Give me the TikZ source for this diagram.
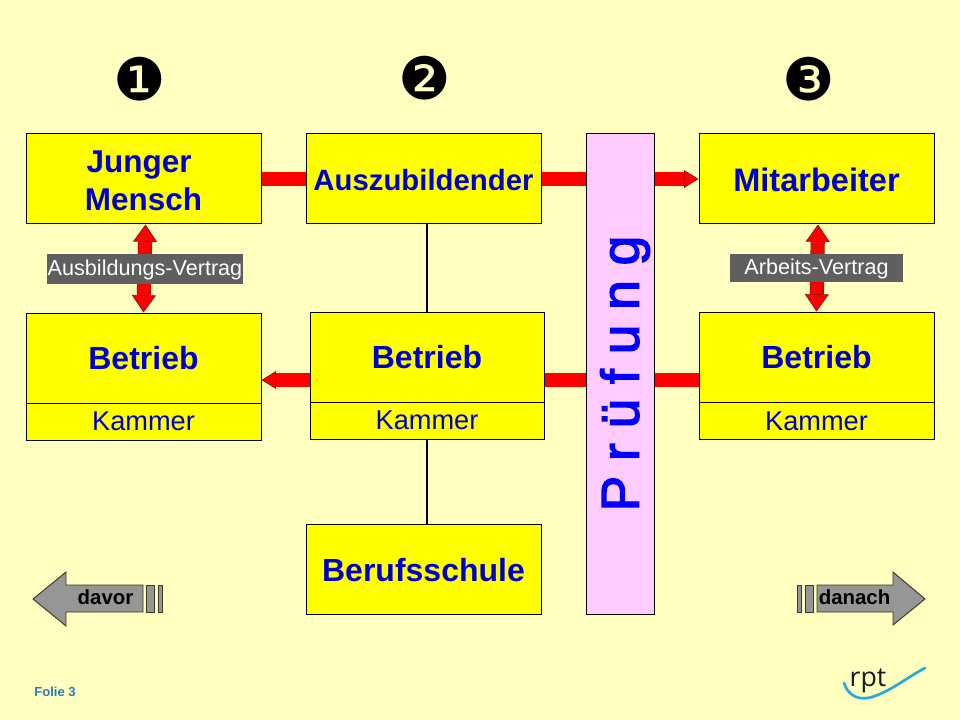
\documentclass[tikz,border=0pt]{standalone}
\usepackage{fontspec}
\setmainfont{Liberation Sans}
\newfontfamily\dingfont{DejaVu Sans}
\newfontfamily\logofont{Open Sans}
\newfontfamily\pruefont[FakeBold=2.5]{Liberation Sans}
\usetikzlibrary{arrows.meta,calc}
\definecolor{bgc}{HTML}{FFFFC0}
\definecolor{boxy}{HTML}{FFFF00}
\definecolor{boxblue}{HTML}{0000CC}
\definecolor{pinkc}{HTML}{FFCCFF}
\definecolor{barred}{HTML}{FF0000}
\definecolor{bardark}{HTML}{8A1010}
\definecolor{tagc}{HTML}{5F5F5F}
\definecolor{navc}{HTML}{969696}
\definecolor{navline}{HTML}{3A3A20}
\definecolor{foliec}{HTML}{2A7AB8}
\definecolor{logoc}{HTML}{29A9D9}
\newcommand\lowertxt[2]{\raisebox{-#1}[\height][\depth]{#2}}
\tikzset{
  x=0.75pt,y=-0.75pt,
  mainbox/.style={draw=black,line width=0.75pt,fill=boxy,minimum width=176.25pt,minimum height=67.5pt,inner sep=0pt,text=boxblue,font=\bfseries\fontsize{24}{28.5}\selectfont,align=center},
  subbox/.style={draw=black,line width=0.75pt,fill=boxy,minimum width=176.25pt,minimum height=27.75pt,inner sep=0pt,text=boxblue,font=\fontsize{20.4}{24}\selectfont},
  tagbox/.style={fill=tagc,text=white,inner sep=0pt,font=\fontsize{16.2}{19}\selectfont},
  redbar/.style={draw=bardark,double=barred,line width=0.4pt,double distance=9.8pt},
  redhead/.style={-{Triangle[length=11pt,width=13.5pt,fill=barred,color=bardark,line width=0.5pt]}},
  redtwo/.style={{Triangle[length=13pt,width=18pt,fill=barred,color=bardark,line width=0.5pt]}-{Triangle[length=13pt,width=18pt,fill=barred,color=bardark,line width=0.5pt]}},
  navshape/.style={draw=navline,line width=0.7pt,fill=navc},
  navtext/.style={font=\bfseries\fontsize{15.3}{18}\selectfont,text=black,inner sep=0pt},
  ding/.style={font=\dingfont\fontsize{44}{50}\selectfont,text=black,inner sep=0pt},
  link/.style={draw=black,line width=1.2pt},
}
\begin{document}
\begin{tikzpicture}
\useasboundingbox[fill=bgc] (0,0) rectangle (960,720);

% circled numbers
\node[ding] (n1) at (140,79) {❶};
\node[ding] (n2) at (425,78) {❷};
\node[ding] (n3) at (809,79) {❸};

% named boxes
\node[mainbox,font=\bfseries\fontsize{23.6}{28.5}\selectfont] (junger) at (143.5,179) {\lowertxt{1.5pt}{Junger\hspace{6.5pt}}\\\lowertxt{1.5pt}{Mensch}};
\node[mainbox,font=\bfseries\fontsize{22}{26}\selectfont] (azubi) at (423.5,179) {\lowertxt{0.75pt}{Auszubildender}};
\node[draw=black,line width=0.75pt,fill=pinkc,minimum width=51pt,minimum height=360pt,inner sep=0pt] (pruef) at (620,374) {};
\node[rotate=90,text=blue,inner sep=0pt,font=\pruefont\fontsize{40}{44}\selectfont] (pruefl) at (625,373.5) {P r ü f u n g};
\node[mainbox,font=\bfseries\fontsize{24.4}{28.5}\selectfont] (mit) at (816.5,179) {\lowertxt{0.75pt}{Mitarbeiter}};
\node[mainbox] (bl) at (143.5,358) {Betrieb};
\node[subbox] (kl) at (143.5,421.5) {Kammer};
\node[mainbox,minimum width=175.5pt] (bm) at (427,357) {Betrieb};
\node[subbox,minimum width=175.5pt] (km) at (427,420.5) {Kammer};
\node[mainbox] (br) at (816.5,357) {Betrieb};
\node[subbox] (kr) at (816.5,421) {Kammer};
\node[mainbox] (schule) at (423.5,569) {\lowertxt{0.75pt}{Berufsschule}};

% connectors
\draw[redbar] (junger.east) -- (azubi.west);
\draw[redbar] (azubi.east) -- (azubi.east -| pruef.west);
\draw[redbar,redhead] (mit.west -| pruef.east) -- (mit.west);
\coordinate (barL) at ($(bm.west)+(0,23)$);
\draw[redbar,redhead] (barL) -- (barL -| bl.east);
\coordinate (barR) at ($(br.west)+(0,23)$);
\draw[redbar] (barR) -- (barR -| pruef.east);
\draw[redbar] (barR -| pruef.west) -- (barR -| bm.east);
\draw[link] (bm.north) -- (bm.north |- azubi.south);
\draw[link] (km.south) -- (schule.north -| km.south);
\draw[redbar,redtwo] (junger.south) ++(2,0) -- (bl.north);
\draw[redbar,redtwo] (mit.south) ++(1.5,0) -- (br.north);

% contract labels
\node[tagbox,minimum width=147pt,minimum height=22.5pt] (t1) at (145,269) {\lowertxt{0.5pt}{Ausbildungs-Vertrag}};
\node[tagbox,minimum width=129.75pt,minimum height=21pt] (t2) at (816.5,268) {\lowertxt{0.5pt}{Arbeits-Vertrag}};

% navigation
\draw[navshape] (33,599) -- (66,572) -- (66,585) -- (143,585) -- (143,612) -- (66,612) -- (66,626) -- cycle;
\draw[navshape] (146.5,585) rectangle (154.5,612);
\draw[navshape] (158.5,585) rectangle (162.5,612);
\node[navtext] (davor) at (105.5,597) {davor};
\draw[navshape] (817,585) -- (893,585) -- (893,572) -- (925,599) -- (893,625) -- (893,612) -- (817,612) -- cycle;
\draw[navshape] (805,585) rectangle (813,612);
\draw[navshape] (797.5,585) rectangle (801.5,612);
\node[navtext] (danach) at (854.5,597) {danach};

% footer
\node[inner sep=0pt,text=foliec,font=\bfseries\fontsize{9.8}{12}\selectfont] (folie) at (55,692) {Folie 3};
\node[inner sep=0pt,text=black!90,font=\logofont\fontsize{20}{24}\selectfont] (rpt) at (868,681) {rpt};
\draw[draw=logoc,line width=2pt,line cap=round] (844,683) .. controls (848,696) and (860,702) .. (875,696) .. controls (892,690) and (908,677) .. (925,668);
\end{tikzpicture}
\end{document}
